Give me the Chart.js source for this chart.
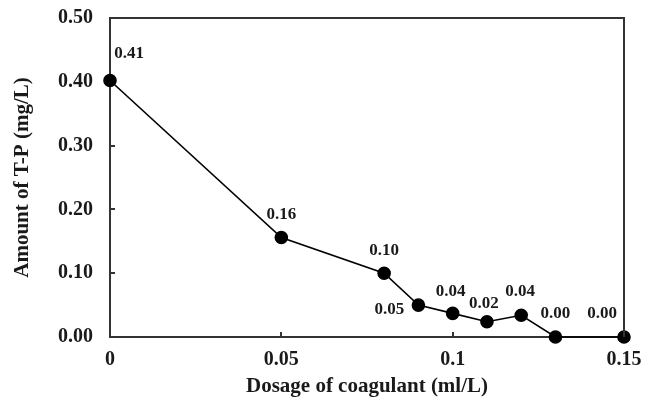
<!DOCTYPE html>
<html>
<head>
<meta charset="utf-8">
<script src="https://cdn.jsdelivr.net/npm/chart.js@4/dist/chart.umd.min.js"></script>
<style>
  html, body { margin: 0; padding: 0; background: #fff; }
  #wrap { width: 661px; height: 400px; }
</style>
</head>
<body>
<div id="wrap"><canvas id="c" width="661" height="400"></canvas></div>
<script>
// Data
const dosage = [0, 0.05, 0.08, 0.09, 0.10, 0.11, 0.12, 0.13, 0.15];
const tpAmount = [0.402, 0.156, 0.100, 0.050, 0.037, 0.024, 0.034, 0.000, 0.000];
const pointLabels = ['0.41', '0.16', '0.10', '0.05', '0.04', '0.02', '0.04', '0.00', '0.00'];
const xTickLabels = ['0', '0.05', '0.1', '0.15'];
const yTickLabels = ['0.00', '0.10', '0.20', '0.30', '0.40', '0.50'];
const xTitle = 'Dosage of coagulant (ml/L)';
const yTitle = 'Amount of T-P (mg/L)';

const SERIF = '"Liberation Serif", "Times New Roman", serif';
const AXIS_COLOR = '#333';
const TEXT_COLOR = '#1a1a1a';

const framePlugin = {
  id: 'frame',
  afterDatasetsDraw(chart) {
    const {ctx, chartArea: a} = chart;
    ctx.save();
    ctx.strokeStyle = AXIS_COLOR;
    ctx.lineWidth = 2;
    ctx.beginPath();
    ctx.moveTo(a.left, a.top);
    ctx.lineTo(a.right, a.top);
    ctx.lineTo(a.right, a.bottom);
    ctx.stroke();
    ctx.restore();
  }
};

const labelPlugin = {
  id: 'ptLabels',
  afterDatasetsDraw(chart, args, opts) {
    const {ctx} = chart;
    const meta = chart.getDatasetMeta(0);
    ctx.save();
    ctx.font = 'bold 17px ' + SERIF;
    ctx.fillStyle = TEXT_COLOR;
    ctx.textAlign = 'center';
    ctx.textBaseline = 'middle';
    meta.data.forEach((pt, i) => {
      const off = opts.offsets[i] || [0, -23];
      ctx.fillText(pointLabels[i], pt.x + off[0], pt.y + off[1]);
    });
    ctx.restore();
  }
};

new Chart(document.getElementById('c'), {
  type: 'scatter',
  data: {
    datasets: [{
      data: dosage.map((x, i) => ({x: x, y: tpAmount[i]})),
      showLine: true,
      borderColor: '#000',
      borderWidth: 1.6,
      backgroundColor: '#000',
      pointBackgroundColor: '#000',
      pointBorderColor: '#000',
      pointRadius: 6,
      pointHoverRadius: 6,
      clip: false
    }]
  },
  options: {
    responsive: false,
    animation: false,
    events: [],
    layout: { padding: { top: 18, right: 37, left: 0, bottom: 0 } },
    plugins: {
      legend: { display: false },
      tooltip: { enabled: false },
      ptLabels: {
        offsets: [[19, -27], [0, -23], [0, -23], [-29, 5], [-2, -22], [-3, -18], [-1, -24], [0, -23], [-22, -23]]
      }
    },
    scales: {
      x: {
        type: 'linear',
        min: 0, max: 0.15,
        afterBuildTicks(scale) {
          scale.ticks = xTickLabels.map(t => ({value: parseFloat(t)}));
        },
        ticks: {
          callback: (v, i) => xTickLabels[i],
          font: { family: SERIF, size: 20, weight: 'bold' },
          color: TEXT_COLOR,
          padding: 16,
          maxRotation: 0,
          autoSkip: false
        },
        grid: { drawOnChartArea: false, tickLength: -5, color: AXIS_COLOR, lineWidth: 2 },
        border: { display: true, color: AXIS_COLOR, width: 2 },
        title: {
          display: true, text: xTitle, color: TEXT_COLOR,
          font: { family: SERIF, size: 21, weight: 'bold' },
          padding: { top: 0, bottom: 1 }
        },
        afterFit(scale) { scale.height = 63; scale.paddingLeft = 0; scale.paddingRight = 0; }
      },
      y: {
        type: 'linear',
        min: 0, max: 0.5,
        afterBuildTicks(scale) {
          scale.ticks = yTickLabels.map(t => ({value: parseFloat(t)}));
        },
        ticks: {
          callback: (v, i) => yTickLabels[i],
          font: { family: SERIF, size: 20, weight: 'bold' },
          color: TEXT_COLOR,
          padding: 22,
          autoSkip: false
        },
        grid: { drawOnChartArea: false, tickLength: -5, color: AXIS_COLOR, lineWidth: 2 },
        border: { display: true, color: AXIS_COLOR, width: 2 },
        title: {
          display: true, text: yTitle, color: TEXT_COLOR,
          font: { family: SERIF, size: 21, weight: 'bold' },
          padding: { top: 10, bottom: 0 }
        },
        afterFit(scale) { scale.width = 110; scale.paddingTop = 0; scale.paddingBottom = 0; }
      }
    }
  },
  plugins: [framePlugin, labelPlugin]
});
</script>
</body>
</html>
